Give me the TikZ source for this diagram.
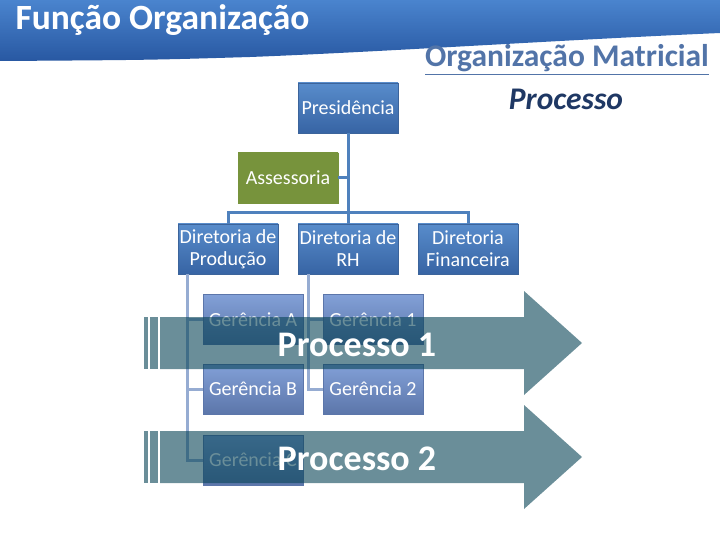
\documentclass[tikz,border=0pt]{standalone}
\usepackage{fontspec}
\setmainfont{Carlito}
\usetikzlibrary{positioning}
\definecolor{BannerTop}{RGB}{74,132,206}
\definecolor{BannerBot}{RGB}{40,88,162}
\definecolor{BoxTop}{RGB}{88,140,203}
\definecolor{BoxBot}{RGB}{55,100,164}
\definecolor{BoxEdge}{RGB}{60,100,155}
\definecolor{OliveGreen}{RGB}{119,147,60}
\definecolor{GerTop}{RGB}{130,160,215}
\definecolor{GerBot}{RGB}{92,118,170}
\definecolor{LinkBlue}{RGB}{79,129,189}
\definecolor{PaleLink}{RGB}{150,172,210}
\definecolor{FlowTeal}{RGB}{7,67,85}
\definecolor{MatrixBlue}{RGB}{82,116,168}
\definecolor{NavyText}{RGB}{31,56,100}

\begin{document}
\begin{tikzpicture}[x=1pt,y=-1pt,
    box/.style={draw=BoxEdge,top color=BoxTop,bottom color=BoxBot,text=white,
      minimum width=100pt,minimum height=50pt,inner sep=0pt,align=center,
      font=\fontsize{20}{22}\selectfont},
    gbox/.style={box,draw=GerBot,top color=GerTop,bottom color=GerBot},
    link/.style={LinkBlue,line width=3pt},
    sublink/.style={PaleLink,line width=3pt},
    flow/.style={fill=FlowTeal,fill opacity=0.6},
    proc/.style={text=white,font=\bfseries\fontsize{36}{40}\selectfont}]
  \useasboundingbox (0,0) rectangle (720,540);

  % banner
  \shade[top color=BannerTop,bottom color=BannerBot]
    (0,0) -- (720,0) -- (720,33) .. controls (560,40) and (380,52) .. (250,57)
    .. controls (150,60) .. (0,61) -- cycle;
  \node[anchor=base west,text=white,font=\bfseries\fontsize{35.5}{40}\selectfont] (title) at (12,30) {Função Organização};

  % headings
  \node[anchor=base,text=MatrixBlue,font=\bfseries\fontsize{31.5}{36}\selectfont] (orgmat) at (567,67) {\underline{Organização Matricial}};
  \node[anchor=base,text=NavyText,font=\bfseries\itshape\fontsize{31.5}{36}\selectfont] (procx) at (566,110) {Processo};

  % chart
  \node[box] (pres) at (348,108) {Presidência};
  \node[box,draw=OliveGreen,top color=OliveGreen,bottom color=OliveGreen] (asse) at (288,178) {Assessoria};
  \node[box] (dprod) at (228,249) {Diretoria de\\Produção};
  \node[box] (drh) at (348,249) {Diretoria de\\RH};
  \node[box] (dfin) at (468,249) {Diretoria\\Financeira};
  \coordinate (bus) at (348,213);
  \draw[link] (pres.south) -- (drh.north);
  \draw[link] (asse.east) -- (asse.east -| pres.south);
  \draw[link] (dprod.north) |- (bus) -| (dfin.north);

  \node[gbox] (ga) at (253,319.5) {Gerência A};
  \node[gbox] (g1) at (373,319.5) {Gerência 1};
  \node[gbox] (gb) at (253,389) {Gerência B};
  \node[gbox] (g2) at (373,389) {Gerência 2};
  \node[gbox] (gc) at (253,460) {Gerência C};
  \draw[sublink] ([xshift=-41pt]dprod.south) |- (ga.west);
  \draw[sublink] ([xshift=-41pt]dprod.south) |- (gb.west);
  \draw[sublink] ([xshift=-41pt]dprod.south) |- (gc.west);
  \draw[sublink] ([xshift=-40pt]drh.south) |- (g1.west);
  \draw[sublink] ([xshift=-40pt]drh.south) |- (g2.west);

  % process arrows
  \foreach \yc/\nm in {343/1,457/2}{
    \fill[flow] (160,\yc-26) -- (524,\yc-26) -- (524,\yc-52) -- (582,\yc)
      -- (524,\yc+52) -- (524,\yc+26) -- (160,\yc+26) -- cycle;
    \fill[flow] (150,\yc-26) rectangle (158,\yc+26);
    \fill[flow] (144,\yc-26) rectangle (148,\yc+26);
    \node[proc] (proc\nm) at (357,\yc+1.5) {Processo \nm};
  }
\end{tikzpicture}
\end{document}
